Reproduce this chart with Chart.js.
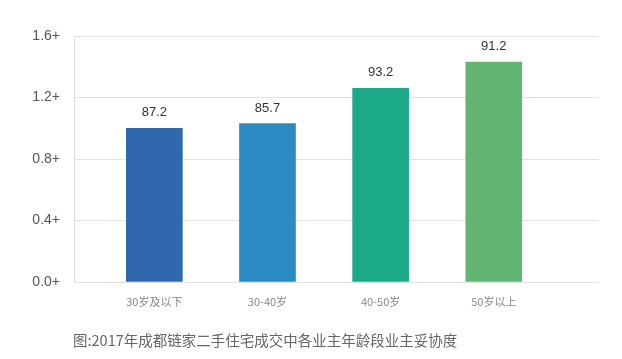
<!DOCTYPE html>
<html>
<head>
<meta charset="utf-8">
<script src="https://cdn.jsdelivr.net/npm/chart.js@4/dist/chart.umd.min.js"></script>
<style>
  html, body { margin: 0; padding: 0; background: #fff; }
  #wrap { position: relative; width: 622px; height: 359px; }
  #caption {
    position: absolute; left: 73px; top: 329px;
    font: 14.5px "Noto Sans CJK SC", sans-serif; color: #666; white-space: nowrap;
  }
</style>
</head>
<body>
<div id="wrap">
  <canvas id="myChart" width="622" height="359"></canvas>
  <div id="caption">图:2017年成都链家二手住宅成交中各业主年龄段业主妥协度</div>
</div>
<script>
const categories = ['30岁及以下', '30-40岁', '40-50岁', '50岁以上'];
const barValues = [1.0, 1.03, 1.26, 1.43];          // bar heights
const labelValues = ['87.2', '85.7', '93.2', '91.2']; // numbers printed above bars
const barColors = ['#2f68ac', '#2a8bc3', '#1ba98a', '#63b573'];
const yTicks = [0, 0.4, 0.8, 1.2, 1.6];

// text above each bar
const valueLabels = {
    id: 'valueLabels',
    afterDatasetsDraw(chart) {
        const ctx = chart.ctx;
        const meta = chart.getDatasetMeta(0);
        ctx.save();
        ctx.font = '13px "Liberation Sans", Arial, sans-serif';
        ctx.fillStyle = '#333';
        ctx.textAlign = 'center';
        ctx.textBaseline = 'bottom';
        meta.data.forEach((bar, i) => {
            ctx.fillText(labelValues[i], bar.x, bar.y - 9);
        });
        ctx.restore();
    }
};

const ctx = document.getElementById('myChart').getContext('2d');
const myChart = new Chart(ctx, {
    type: 'bar',
    data: {
        datasets: [{
            data: barValues.map((v, i) => ({ x: i, y: v })),
            backgroundColor: barColors,
            barThickness: 56
        }]
    },
    options: {
        responsive: false,
        animation: false,
        layout: { padding: { top: 36, right: 23, bottom: 37, left: 0 } },
        plugins: { legend: { display: false }, tooltip: { enabled: false } },
        scales: {
            x: {
                type: 'linear',
                offset: false,
                min: -0.71,
                max: 3.93,
                afterBuildTicks: (scale) => { scale.ticks = categories.map((c, i) => ({ value: i })); },
                afterFit: (scale) => { scale.height = 40; },
                grid: { display: false, drawTicks: false },
                border: { display: false },
                ticks: {
                    padding: 13,
                    color: '#888',
                    font: { family: '"Noto Sans CJK SC", sans-serif', size: 11 },
                    callback: (v) => categories[v]
                }
            },
            y: {
                min: 0,
                max: 1.6,
                afterBuildTicks: (scale) => { scale.ticks = yTicks.map(v => ({ value: v })); },
                afterFit: (scale) => { scale.width = 74; },
                grid: { color: '#e2e2e2', drawTicks: false },
                border: { display: true, color: '#dcdcdc' },
                ticks: {
                    padding: 14,
                    color: '#555',
                    font: { family: '"Liberation Sans", Arial, sans-serif', size: 14 },
                    callback: (v) => v.toFixed(1) + '+'
                }
            }
        }
    },
    plugins: [valueLabels]
});
</script>
</body>
</html>
